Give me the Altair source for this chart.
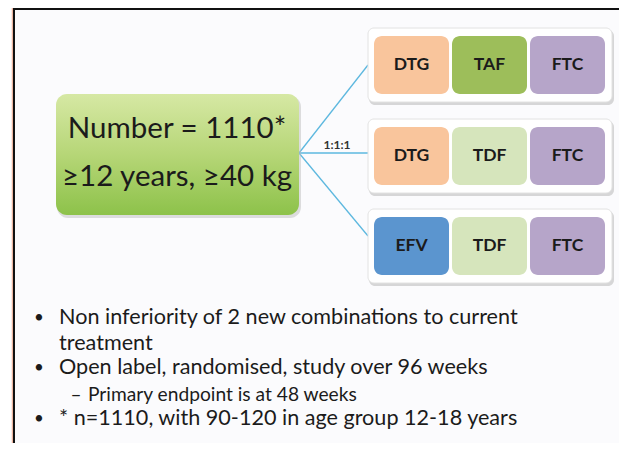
import altair as alt
import pandas as pd

# ---------------- data ----------------
arm_drugs = [["DTG", "TAF", "FTC"],
             ["DTG", "TDF", "FTC"],
             ["EFV", "TDF", "FTC"]]
drug_colors = {"DTG": "#f9c59c", "TAF": "#9dbe5a", "FTC": "#b6a5c9",
               "TDF": "#d6e5bc", "EFV": "#5b95cf"}
main_lines = ["Number = 1110*", "≥12 years, ≥40 kg"]
ratio_label = "1:1:1"
bullet_texts = ["Non inferiority of 2 new combinations to current",
                "treatment",
                "Open label, randomised, study over 96 weeks",
                "Primary endpoint is at 48 weeks",
                "* n=1110, with 90-120 in age group 12-18 years"]
bullet_marks = ["•", "", "•", "–", "•"]
bullet_levels = [1, 1, 1, 2, 1]

# ---------------- layout ----------------
W, H = 611, 435
xs = alt.Scale(domain=[8, 8 + W], range=[0, W], nice=False, zero=False)
ys = alt.Scale(domain=[8, 8 + H], range=[0, H], nice=False, zero=False)

def X(f="x"):
    return alt.X(f + ":Q", scale=xs, axis=None)

def Y(f="y"):
    return alt.Y(f + ":Q", scale=ys, axis=None)

def X2(f="x2"):
    return alt.X2(f + ":Q")

def Y2(f="y2"):
    return alt.Y2(f + ":Q")

FONT = "Lato"
TXT = "#1b1b1b"

# frame / background
bg = pd.DataFrame([{"x": 15, "x2": 8 + W, "y": 10, "y2": 8 + H}])
bg_layer = alt.Chart(bg).mark_rect(fill="#fbfbfd").encode(x=X(), x2=X2(), y=Y(), y2=Y2())
frame_v = pd.DataFrame([{"x": 14, "y": 8, "y2": 8 + H}])
frame_h = pd.DataFrame([{"x": 13, "x2": 8 + W, "y": 9}])
frame_o = pd.DataFrame([{"x": 12.3, "y": 8, "y2": 8 + H}])
frame_layers = [
    alt.Chart(frame_o).mark_rule(color="#e8a48a", strokeWidth=1).encode(x=X(), y=Y(), y2=Y2()),
    alt.Chart(frame_v).mark_rule(color="#111111", strokeWidth=2).encode(x=X(), y=Y(), y2=Y2()),
    alt.Chart(frame_h).mark_rule(color="#111111", strokeWidth=2).encode(x=X(), x2=X2(), y=Y()),
]

# main green box
gx0, gx1, gy0, gy1 = 56, 299, 94, 215
gbox = pd.DataFrame([{"x": gx0, "x2": gx1, "y": gy0, "y2": gy1}])
gshadow = pd.DataFrame([{"x": gx0 + 1, "x2": gx1 + 2, "y": gy0 + 2, "y2": gy1 + 3}])
grad = alt.Gradient(gradient="linear", x1=0, y1=0, x2=0, y2=1,
                    stops=[alt.GradientStop(offset=0, color="#d6e8a4"),
                           alt.GradientStop(offset=0.5, color="#b6d677"),
                           alt.GradientStop(offset=1, color="#8dc24a")])
gshadow_layer = alt.Chart(gshadow).mark_rect(fill="#bdbdbd", opacity=0.5, cornerRadius=11).encode(
    x=X(), x2=X2(), y=Y(), y2=Y2())
gbox_layer = alt.Chart(gbox).mark_rect(fill=grad, cornerRadius=11).encode(
    x=X(), x2=X2(), y=Y(), y2=Y2())
main_df = pd.DataFrame({"x": [(gx0 + gx1) / 2 - 0.5] * 2, "y": [129, 177], "t": main_lines})
main_text = alt.Chart(main_df).mark_text(font=FONT, fontSize=29.5, color=TXT, align="center",
                                         baseline="middle").encode(x=X(), y=Y(), text="t:N")

# arms
cont_x0, cont_x1 = 368, 612
cont_tops = [28, 119, 209]
cont_h = 74
conts, shadows, cells, links = [], [], [], []
origin = (299, 153)
link_y = [65, 153, 236]
for i, drugs in enumerate(arm_drugs):
    t = cont_tops[i]
    conts.append({"x": cont_x0, "x2": cont_x1, "y": t, "y2": t + cont_h})
    shadows.append({"x": cont_x0 + 1, "x2": cont_x1 + 2, "y": t + 2, "y2": t + cont_h + 3})
    links.append({"x": origin[0], "y": origin[1], "x2": cont_x0, "y2": link_y[i]})
    for j, d in enumerate(drugs):
        x0 = 374 + j * 78
        cells.append({"x": x0, "x2": x0 + 75, "y": t + 8, "y2": t + 66,
                      "xc": x0 + 37.5, "yc": t + 37, "drug": d, "col": drug_colors[d]})
links_layer = alt.Chart(pd.DataFrame(links)).mark_rule(color="#5db8df", strokeWidth=1.3).encode(
    x=X(), y=Y(), x2=X2(), y2=Y2())
shadow_layer = alt.Chart(pd.DataFrame(shadows)).mark_rect(fill="#b8b8b8", opacity=0.55, cornerRadius=6).encode(
    x=X(), x2=X2(), y=Y(), y2=Y2())
cont_layer = alt.Chart(pd.DataFrame(conts)).mark_rect(fill="#ffffff", stroke="#e2e2e2", strokeWidth=1,
                                                     cornerRadius=6).encode(
    x=X(), x2=X2(), y=Y(), y2=Y2())
cells_df = pd.DataFrame(cells)
cell_layer = alt.Chart(cells_df).mark_rect(cornerRadius=8).encode(
    x=X(), x2=X2(), y=Y(), y2=Y2(), fill=alt.Fill("col:N", scale=None))
cell_text = alt.Chart(cells_df).mark_text(font=FONT, fontWeight="bold", fontSize=17.5, color=TXT,
                                          align="center", baseline="middle").encode(
    x=X("xc"), y=Y("yc"), text="drug:N")

ratio_df = pd.DataFrame([{"x": 337, "y": 145, "t": ratio_label}])
ratio_text = alt.Chart(ratio_df).mark_text(font=FONT, fontWeight="bold", fontSize=12, color="#333333",
                                           align="center", baseline="middle").encode(
    x=X(), y=Y(), text="t:N")

# bullets
b_y = [318, 344, 368, 395, 419]
brows = []
for k, (txt, mk, lv) in enumerate(zip(bullet_texts, bullet_marks, bullet_levels)):
    if lv == 1:
        brows.append({"x": 59, "y": b_y[k], "t": txt, "mx": 39, "m": mk, "fs": 21.6, "ms": 17})
    else:
        brows.append({"x": 88, "y": b_y[k], "t": txt, "mx": 76, "m": mk, "fs": 19.2, "ms": 19})
bdf = pd.DataFrame(brows)
btext = alt.Chart(bdf).mark_text(font=FONT, color=TXT, align="left", baseline="middle").encode(
    x=X(), y=Y(), text="t:N", size=alt.Size("fs:Q", scale=None))
bmark = alt.Chart(bdf).mark_text(font=FONT, color=TXT, align="center", baseline="middle").encode(
    x=X("mx"), y=Y(), text="m:N", size=alt.Size("ms:Q", scale=None))

chart = alt.layer(
    bg_layer, *frame_layers, links_layer, shadow_layer, cont_layer, cell_layer, cell_text,
    gshadow_layer, gbox_layer, main_text, ratio_text, btext, bmark
).properties(
    width=W, height=H, padding=0, autosize="none", background="#ffffff"
).configure_view(stroke=None)

chart.save("out.html", embed_options={"renderer": "svg", "actions": False})
